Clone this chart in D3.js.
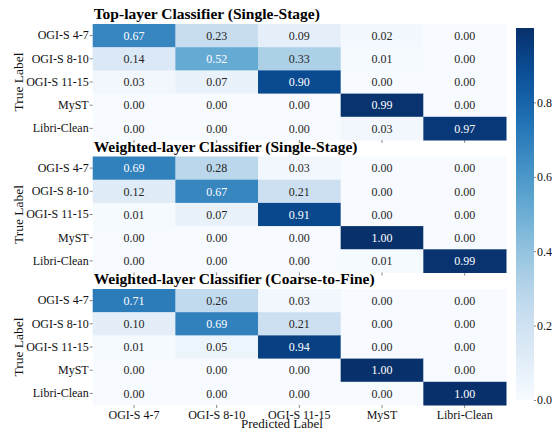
<!DOCTYPE html>
<html>
<head>
<meta charset="utf-8">
<script src="https://cdn.jsdelivr.net/npm/d3@7"></script>
<style>
  body { margin: 0; background: #fff; }
  svg text { font-family: "Liberation Serif", "Times New Roman", Times, "DejaVu Serif", serif !important; }
</style>
</head>
<body>
<svg width="555" height="430"></svg>
<script>
// labels shared by all three confusion matrices
const classes = ['OGI-S 4-7', 'OGI-S 8-10', 'OGI-S 11-15', 'MyST', 'Libri-Clean'];
const titles = [
  'Top-layer Classifier (Single-Stage)',
  'Weighted-layer Classifier (Single-Stage)',
  'Weighted-layer Classifier (Coarse-to-Fine)'
];
// normalised confusion matrices, rows = true label
const topSingle = [
  [0.67, 0.23, 0.09, 0.02, 0.00],
  [0.14, 0.52, 0.33, 0.01, 0.00],
  [0.03, 0.07, 0.90, 0.00, 0.00],
  [0.00, 0.00, 0.00, 0.99, 0.00],
  [0.00, 0.00, 0.00, 0.03, 0.97]
];
const weightedSingle = [
  [0.69, 0.28, 0.03, 0.00, 0.00],
  [0.12, 0.67, 0.21, 0.00, 0.00],
  [0.01, 0.07, 0.91, 0.00, 0.00],
  [0.00, 0.00, 0.00, 1.00, 0.00],
  [0.00, 0.00, 0.00, 0.01, 0.99]
];
const weightedC2F = [
  [0.71, 0.26, 0.03, 0.00, 0.00],
  [0.10, 0.69, 0.21, 0.00, 0.00],
  [0.01, 0.05, 0.94, 0.00, 0.00],
  [0.00, 0.00, 0.00, 1.00, 0.00],
  [0.00, 0.00, 0.00, 0.00, 1.00]
];
const colorTicks = [0.0, 0.2, 0.4, 0.6, 0.8];

const matrices = [topSingle, weightedSingle, weightedC2F];

const svg = d3.select('svg');
const left = 92.7, right = 506;
const panelH = 116;
const panelTops = [24, 156.5, 289];

const color = d3.scaleSequential(d3.interpolateBlues).domain([0, 1]);

const x = d3.scaleBand().domain(classes).range([left, right]);
const y = d3.scaleBand().domain(classes).range([0, panelH]);

matrices.forEach((m, p) => {
  const g = svg.append('g').attr('transform', `translate(0,${panelTops[p]})`);
  const cells = [];
  m.forEach((row, i) => row.forEach((v, j) => cells.push({ t: classes[i], pr: classes[j], v })));

  g.selectAll('rect')
    .data(cells)
    .enter()
    .append('rect')
      .attr('x', d => x(d.pr))
      .attr('y', d => y(d.t))
      .attr('width', x.bandwidth() + 0.5)
      .attr('height', y.bandwidth() + 0.5)
      .attr('fill', d => color(d.v));

  g.selectAll('text.val')
    .data(cells)
    .enter()
    .append('text')
      .attr('class', 'val')
      .text(d => d.v.toFixed(2))
      .attr('x', d => x(d.pr) + x.bandwidth() / 2)
      .attr('y', d => y(d.t) + y.bandwidth() / 2)
      .attr('dy', '0.35em')
      .attr('text-anchor', 'middle')
      .attr('font-size', 12)
      .attr('fill', d => d.v > 0.5 ? '#fff' : '#262626');

  // y axis
  const ya = g.append('g')
    .attr('transform', `translate(${left},0)`)
    .call(d3.axisLeft(y).tickSize(3).tickPadding(1));
  ya.select('.domain').remove();
  ya.selectAll('text').attr('font-size', 12).attr('fill', '#111');
  ya.selectAll('line').attr('stroke', '#333').attr('stroke-width', 0.6);

  // x axis, labels only on the last panel
  const xa = g.append('g')
    .attr('transform', `translate(0,${panelH})`)
    .call(d3.axisBottom(x).tickSize(3).tickPadding(2));
  xa.select('.domain').remove();
  xa.selectAll('line').attr('stroke', '#333').attr('stroke-width', 0.6);
  if (p < 2) xa.selectAll('text').remove();
  else xa.selectAll('text').attr('font-size', 12).attr('fill', '#111');

  // title
  g.append('text')
    .text(titles[p])
    .attr('x', left + 1)
    .attr('y', -5)
    .attr('font-size', 15.5)
    .attr('font-weight', 'bold')
    .attr('fill', '#000');

  // y label
  g.append('text')
    .text('True Label')
    .attr('transform', `translate(23,${panelH / 2}) rotate(-90)`)
    .attr('text-anchor', 'middle')
    .attr('font-size', 13.5)
    .attr('fill', '#111');
});

svg.append('text')
  .text('Predicted Label')
  .attr('x', 282)
  .attr('y', 428)
  .attr('text-anchor', 'middle')
  .attr('font-size', 13)
  .attr('fill', '#111');

// colorbar
const cbX = 516, cbW = 18, cbTop = 28, cbBot = 400;
const cbScale = d3.scaleLinear().domain([0, 1]).range([cbBot, cbTop]);
const defs = svg.append('defs');
const grad = defs.append('linearGradient')
  .attr('id', 'cb')
  .attr('x1', 0).attr('y1', 1).attr('x2', 0).attr('y2', 0);
d3.range(0, 1.001, 0.05).forEach(t => {
  grad.append('stop').attr('offset', t).attr('stop-color', color(t));
});
svg.append('rect')
  .attr('x', cbX).attr('y', cbTop)
  .attr('width', cbW).attr('height', cbBot - cbTop)
  .attr('fill', 'url(#cb)');
const ca = svg.append('g')
  .attr('transform', `translate(${cbX + cbW},0)`)
  .call(d3.axisRight(cbScale).tickValues(colorTicks).tickFormat(d3.format('.1f')).tickSize(2).tickPadding(1));
ca.select('.domain').remove();
ca.selectAll('text').attr('font-size', 12).attr('fill', '#111');
ca.selectAll('line').attr('stroke', '#333').attr('stroke-width', 0.6);
</script>
</body>
</html>
